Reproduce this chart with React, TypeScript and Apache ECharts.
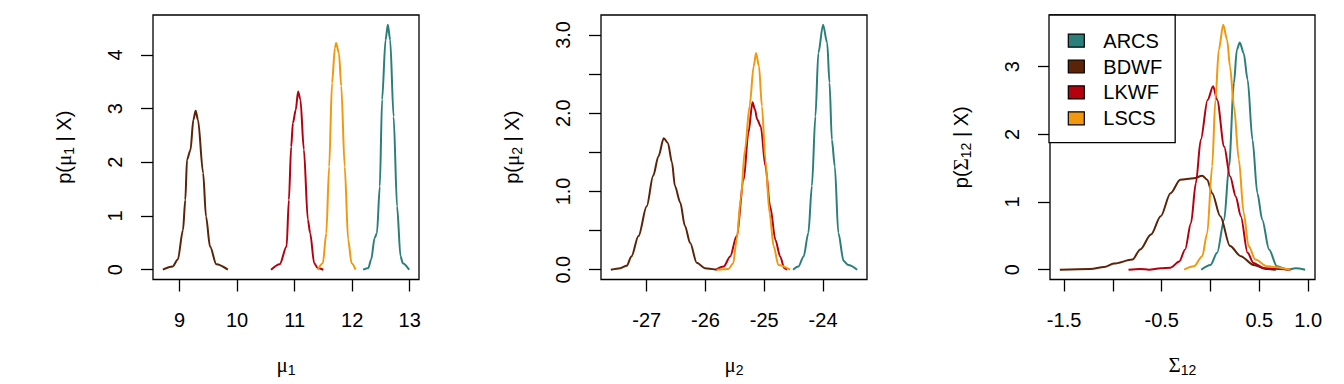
import React, { useEffect, useRef } from "react";
import * as echarts from "echarts";

// ---------- data ----------
const methods = ["ARCS", "BDWF", "LKWF", "LSCS"];
const colors = ["#2b7f7a", "#5b2307", "#b5000f", "#f2980e"];

// panel 1: mu_1
const mu1ARCS = [[12.19,0],[12.28,0.03],[12.33,0.19],[12.39,0.59],[12.43,0.68],[12.48,1.55],[12.52,3.17],[12.58,4.28],[12.62,4.56],[12.66,4.28],[12.72,2.85],[12.78,1.18],[12.84,0.25],[12.88,0.12],[12.99,0]];
const mu1BDWF = [[8.71,0],[8.88,0.06],[8.97,0.19],[9.06,0.74],[9.10,1.30],[9.13,2.05],[9.19,2.23],[9.24,2.79],[9.28,2.96],[9.32,2.79],[9.41,1.80],[9.46,0.99],[9.53,0.43],[9.64,0.10],[9.84,0]];
const mu1LKWF = [[10.59,0],[10.74,0.10],[10.86,0.43],[10.90,1.30],[10.94,2.29],[10.97,2.73],[11.02,2.98],[11.06,3.32],[11.10,3.17],[11.16,2.24],[11.23,0.93],[11.27,0.68],[11.34,0.12],[11.40,0.03],[11.50,0]];
const mu1LSCS = [[11.40,0],[11.49,0.12],[11.55,0.68],[11.60,1.92],[11.65,3.48],[11.70,4.13],[11.72,4.22],[11.77,4.03],[11.81,3.42],[11.87,1.92],[11.93,0.56],[11.99,0.12],[12.06,0]];

// panel 2: mu_2
const mu2ARCS = [[-24.51,0],[-24.42,0.04],[-24.33,0.17],[-24.25,0.47],[-24.19,1.07],[-24.13,1.96],[-24.08,2.77],[-24.00,3.13],[-23.93,2.90],[-23.89,2.39],[-23.85,1.66],[-23.80,1.32],[-23.74,0.47],[-23.65,0.11],[-23.57,0.06],[-23.42,0]];
const mu2BDWF = [[-27.61,0],[-27.45,0.02],[-27.34,0.05],[-27.26,0.17],[-27.14,0.43],[-27.00,0.81],[-26.89,1.20],[-26.80,1.45],[-26.71,1.68],[-26.64,1.62],[-26.57,1.37],[-26.52,1.07],[-26.43,0.86],[-26.35,0.56],[-26.26,0.34],[-26.15,0.09],[-26.01,0.02],[-25.81,0]];
const mu2LKWF = [[-25.82,0],[-25.69,0.04],[-25.58,0.17],[-25.47,0.43],[-25.35,1.15],[-25.27,1.75],[-25.20,2.14],[-25.16,2.05],[-25.12,1.92],[-25.06,1.83],[-24.98,1.32],[-24.90,0.81],[-24.81,0.38],[-24.73,0.17],[-24.66,0.02],[-24.61,0]];
const mu2LSCS = [[-25.81,0],[-25.61,0.01],[-25.53,0.08],[-25.47,0.38],[-25.40,0.90],[-25.33,1.53],[-25.25,2.09],[-25.18,2.60],[-25.14,2.77],[-25.09,2.60],[-25.04,2.09],[-24.98,1.40],[-24.91,0.72],[-24.84,0.30],[-24.76,0.06],[-24.56,0]];

// panel 3: Sigma_12
const s12ARCS = [[-0.095,0],[0.0,0.07],[0.068,0.25],[0.14,0.74],[0.19,1.53],[0.24,2.76],[0.27,3.25],[0.30,3.36],[0.34,3.20],[0.38,2.81],[0.43,1.92],[0.48,1.13],[0.53,0.74],[0.60,0.30],[0.68,0.05],[0.79,0],[0.87,0.02],[0.97,0]];
const s12BDWF = [[-1.544,0],[-1.23,0.01],[-1.09,0.04],[-0.99,0.09],[-0.80,0.15],[-0.72,0.30],[-0.61,0.52],[-0.51,0.79],[-0.41,1.13],[-0.31,1.33],[-0.17,1.35],[-0.085,1.39],[-0.034,1.33],[0.017,1.13],[0.10,0.79],[0.20,0.35],[0.31,0.20],[0.44,0.07],[0.58,0.01],[0.67,0]];
const s12LKWF = [[-0.84,0],[-0.72,0.01],[-0.63,0],[-0.51,0.02],[-0.41,0.03],[-0.32,0.12],[-0.26,0.30],[-0.20,0.69],[-0.15,1.28],[-0.10,1.92],[-0.03,2.51],[0.027,2.71],[0.068,2.51],[0.14,1.82],[0.20,1.38],[0.26,1.08],[0.31,0.79],[0.38,0.25],[0.44,0.10],[0.55,0.02],[0.82,0]];
const s12LSCS = [[-0.27,0],[-0.17,0.05],[-0.085,0.20],[-0.034,0.54],[0.017,1.53],[0.05,2.51],[0.085,3.25],[0.13,3.62],[0.17,3.40],[0.20,3.00],[0.24,2.42],[0.29,1.63],[0.34,0.84],[0.39,0.35],[0.46,0.15],[0.58,0.05],[0.82,0]];

// ticks and tick labels
const mu1XTicks = [9, 10, 11, 12, 13];
const mu1XLabels = ["9", "10", "11", "12", "13"];
const mu1YTicks = [0, 1, 2, 3, 4];
const mu1YLabels = ["0", "1", "2", "3", "4"];
const mu2XTicks = [-27, -26, -25, -24];
const mu2XLabels = ["-27", "-26", "-25", "-24"];
const mu2YTicks = [0, 0.5, 1, 1.5, 2, 2.5, 3];
const mu2YLabelValues = [0, 1, 2, 3];
const mu2YLabels = ["0.0", "1.0", "2.0", "3.0"];
const s12XTicks = [-1.5, -1, -0.5, 0, 0.5, 1];
const s12XLabelValues = [-1.5, -0.5, 0.5, 1];
const s12XLabels = ["-1.5", "-0.5", "0.5", "1.0"];
const s12YTicks = [0, 1, 2, 3];
const s12YLabels = ["0", "1", "2", "3"];

// ---------- styling ----------
const SANS = '"Liberation Sans", Arial, Helvetica, sans-serif';
const SERIF = '"Liberation Serif", "DejaVu Serif", serif';
const FS = 20;
const BOX_W = 1.3;

const rich = {
  t: { fontFamily: SANS, fontSize: FS, lineHeight: 24, color: "#000" },
  g: { fontFamily: SERIF, fontSize: 21, lineHeight: 24, color: "#000" },
  s: { fontFamily: SANS, fontSize: 14, lineHeight: 10, verticalAlign: "bottom", color: "#000" },
};

function ext(vals: number[]) {
  const mn = Math.min(...vals);
  const mx = Math.max(...vals);
  const d = (mx - mn) * 0.04;
  return [mn - d, mx + d];
}

const panels = [
  {
    left: 153, width: 266,
    curves: [mu1ARCS, mu1BDWF, mu1LKWF, mu1LSCS],
    xTicks: mu1XTicks, xLabelValues: mu1XTicks, xLabels: mu1XLabels,
    yTicks: mu1YTicks, yLabelValues: mu1YTicks, yLabels: mu1YLabels,
    xName: "{g|μ}{s|1}", yName: "{t|p(}{g|μ}{s|1}{t| | X)}",
  },
  {
    left: 601, width: 266,
    curves: [mu2ARCS, mu2BDWF, mu2LKWF, mu2LSCS],
    xTicks: mu2XTicks, xLabelValues: mu2XTicks, xLabels: mu2XLabels,
    yTicks: mu2YTicks, yLabelValues: mu2YLabelValues, yLabels: mu2YLabels,
    xName: "{g|μ}{s|2}", yName: "{t|p(}{g|μ}{s|2}{t| | X)}",
  },
  {
    left: 1050, width: 265,
    curves: [s12ARCS, s12BDWF, s12LKWF, s12LSCS],
    xTicks: s12XTicks, xLabelValues: s12XLabelValues, xLabels: s12XLabels,
    yTicks: s12YTicks, yLabelValues: s12YTicks, yLabels: s12YLabels,
    xName: "{g|Σ}{s|12}", yName: "{t|p(}{g|Σ}{s|12}{t| | X)}",
  },
];

function labelFor(values: number[], labels: string[]) {
  return (v: number) => {
    const i = values.findIndex((u) => Math.abs(u - v) < 1e-9);
    return i >= 0 ? labels[i] : "";
  };
}

function buildOption() {
  const grid: any[] = [];
  const xAxis: any[] = [];
  const yAxis: any[] = [];
  const series: any[] = [];
  panels.forEach((p, pi) => {
    grid.push({
      left: p.left, top: 15, width: p.width, height: 264.5,
      show: true, borderColor: "#000", borderWidth: BOX_W, backgroundColor: "transparent",
    });
    const allX = p.curves.flatMap((c) => c.map((d) => d[0]));
    const allY = p.curves.flatMap((c) => c.map((d) => d[1]));
    const [xmin, xmax] = ext(allX);
    const [ymin, ymax] = ext(allY);
    xAxis.push({
      type: "value", gridIndex: pi, min: xmin, max: xmax, position: "bottom",
      axisLine: { show: false, onZero: false },
      splitLine: { show: false },
      axisTick: { show: true, inside: false, length: 12, customValues: p.xTicks, lineStyle: { color: "#000", width: BOX_W } },
      axisLabel: {
        show: true, customValues: p.xLabelValues, margin: 30,
        fontFamily: SANS, fontSize: FS, color: "#000",
        formatter: labelFor(p.xLabelValues, p.xLabels),
      },
      name: p.xName, nameLocation: "middle", nameGap: 73,
      nameTextStyle: { rich },
    });
    yAxis.push({
      type: "value", gridIndex: pi, min: ymin, max: ymax, position: "left",
      axisLine: { show: false, onZero: false },
      splitLine: { show: false },
      axisTick: { show: true, inside: false, length: 12, customValues: p.yTicks, lineStyle: { color: "#000", width: BOX_W } },
      axisLabel: {
        show: true, customValues: p.yLabelValues, margin: 28, rotate: 90,
        fontFamily: SANS, fontSize: FS, color: "#000",
        formatter: labelFor(p.yLabelValues, p.yLabels),
      },
      name: p.yName, nameLocation: "middle", nameGap: 77,
      nameTextStyle: { rich },
    });
    p.curves.forEach((c, ci) => {
      series.push({
        type: "line", name: methods[ci], xAxisIndex: pi, yAxisIndex: pi,
        data: c, showSymbol: false, smooth: 0.3, smoothMonotone: "x",
        color: colors[ci],
        lineStyle: { color: colors[ci], width: 2 },
        itemStyle: { color: colors[ci] },
        z: 2 + ci,
      });
    });
  });

  return {
    animation: false,
    backgroundColor: "#fff",
    grid, xAxis, yAxis, series,
    legend: {
      left: 1049, top: 15, orient: "vertical",
      data: methods.map((m, i) => ({ name: m, icon: "rect", itemStyle: { color: colors[i], borderColor: "#000", borderWidth: 1.2 } })),
      itemWidth: 16, itemHeight: 13, itemGap: 5.9,
      padding: [15.6, 13, 14.3, 18.7],
      backgroundColor: "#fff", borderColor: "#000", borderWidth: BOX_W, borderRadius: 0,
      textStyle: { fontFamily: SANS, fontSize: FS, color: "#000", padding: [0, 0, 0, 14] },
      selectedMode: false,
      z: 10,
    },
  };
}

export default function App() {
  const ref = useRef<HTMLDivElement>(null);
  useEffect(() => {
    if (!ref.current) return;
    const chart = echarts.init(ref.current, null, { renderer: "svg" });
    chart.setOption(buildOption() as any);
    return () => chart.dispose();
  }, []);
  return (
    <div
      ref={ref}
      style={{ position: "fixed", left: 0, top: 0, width: 1344, height: 384, background: "#fff" }}
    />
  );
}
